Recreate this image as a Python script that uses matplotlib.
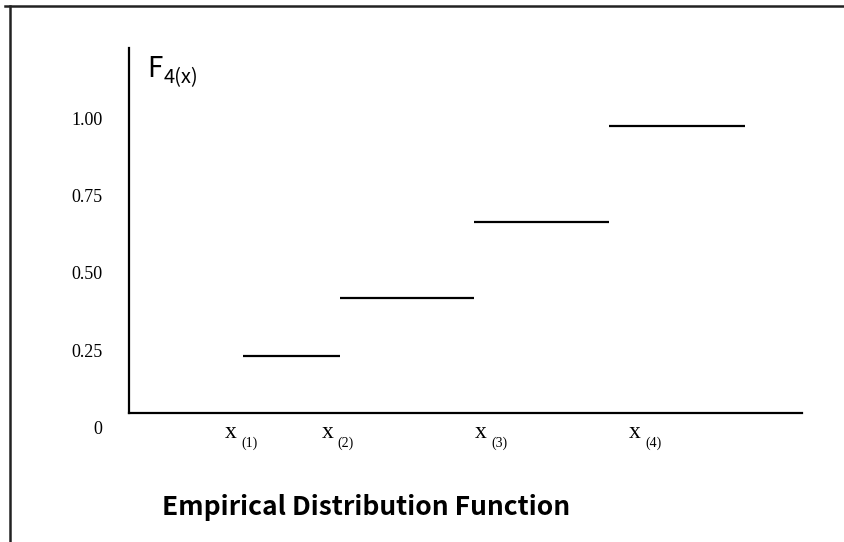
import matplotlib
matplotlib.use("Agg")
import matplotlib.pyplot as plt
from matplotlib.lines import Line2D

# Step heights of the empirical CDF and the x positions where each step starts/ends
step_edges = [1.14, 2.11, 3.45, 4.80, 6.16]
step_heights = [0.231, 0.418, 0.666, 0.977]

# Y tick values and their labels
y_ticks = [0, 0.25, 0.50, 0.75, 1.00]
y_tick_labels = ["0", "0.25", "0.50", "0.75", "1.00"]

# Order-statistic labels along the x axis
x_label_pos = [1.02, 1.985, 3.52, 5.06]
x_label_sub = ["(1)", "(2)", "(3)", "(4)"]

W, H = 844, 542
DPI = 100
fig = plt.figure(figsize=(W / DPI, H / DPI), dpi=DPI)

def fx(px):
    return px / W

def fy(py):
    return 1 - py / H

# axes box: left 129px, right 802px, bottom at y=0 (427.5px), top 48px
ax = fig.add_axes([fx(129), fy(427.5), fx(802) - fx(129), fy(48) - fy(427.5)])
ax.set_xlim(0, 6.73)
ax.set_ylim(0, 1.228)
axis_base = 0.047

for s in ("top", "right"):
    ax.spines[s].set_visible(False)
ax.spines["bottom"].set_position(("data", axis_base))
ax.spines["left"].set_bounds(axis_base, 1.228)
for s in ("bottom", "left"):
    ax.spines[s].set_linewidth(1.6)
    ax.spines[s].set_color("black")

# horizontal steps
for i, h in enumerate(step_heights):
    ax.plot([step_edges[i], step_edges[i + 1]], [h, h], color="black",
            lw=1.6, solid_capstyle="butt")

ax.set_xticks([])
ax.set_yticks(y_ticks)
ax.set_yticklabels(y_tick_labels, fontfamily="Liberation Serif", fontsize=13)
ax.tick_params(axis="y", length=0, pad=19)

# x-axis labels: x with a small parenthesised subscript
tr = ax.get_xaxis_transform()
for xp, sub in zip(x_label_pos, x_label_sub):
    ax.annotate("x", xy=(xp, 0), xycoords=tr, xytext=(0, -10.5),
                textcoords="offset pixels", ha="center", va="baseline",
                fontfamily="Liberation Serif", fontsize=17, annotation_clip=False)
    ax.annotate(sub, xy=(xp, 0), xycoords=tr, xytext=(10, -19.5),
                textcoords="offset pixels", ha="left", va="baseline",
                fontfamily="Liberation Serif", fontsize=10, annotation_clip=False)

# y-axis name F4(x)
fig.text(fx(147), fy(77), "F", fontfamily="Noto Sans CJK JP", fontsize=20,
         ha="left", va="baseline")
fig.text(fx(164), fy(83), "4(x)", fontfamily="Noto Sans CJK JP", fontsize=14.5,
         ha="left", va="baseline")

# caption
fig.text(fx(366), fy(515), "Empirical Distribution Function",
         fontfamily="Noto Sans CJK JP", fontweight="bold", fontsize=19,
         ha="center", va="baseline")

# frame lines along the top and left edges
fig.add_artist(Line2D([fx(5), 1], [fy(6), fy(6)], color="#222222", lw=1.8,
                      transform=fig.transFigure))
fig.add_artist(Line2D([fx(9.5), fx(9.5)], [fy(6), 0], color="#222222", lw=1.8,
                      transform=fig.transFigure))

fig.savefig("out.png", dpi=DPI)
